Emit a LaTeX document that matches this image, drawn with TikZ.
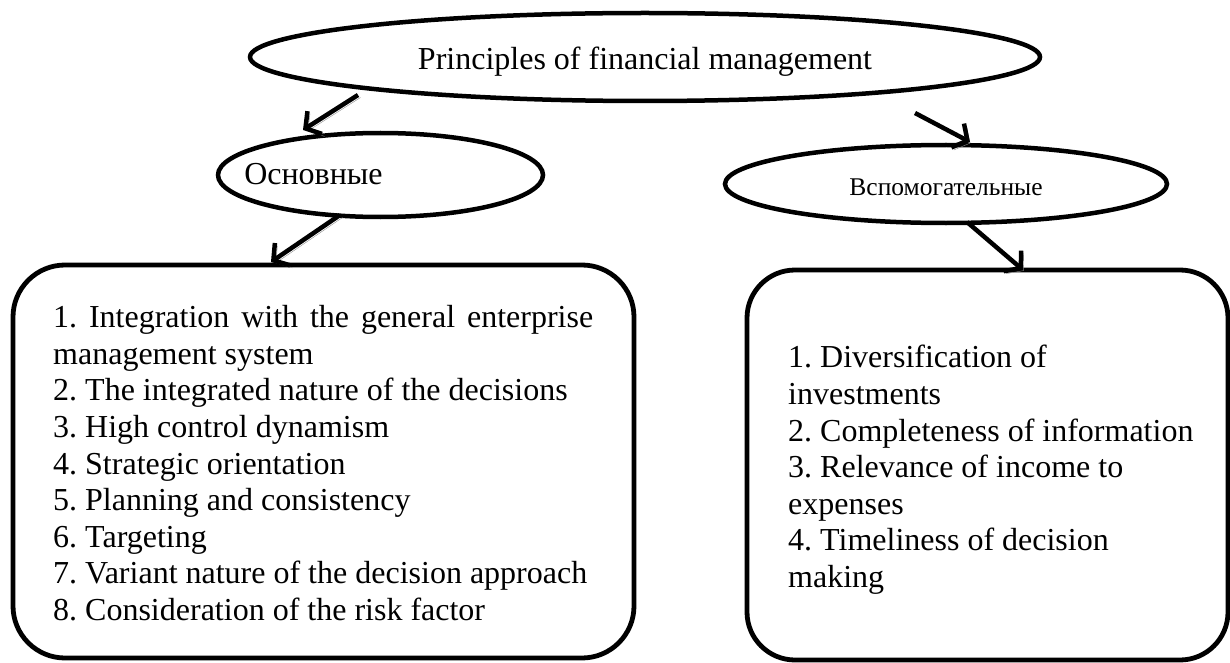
\documentclass[tikz,border=0pt]{standalone}
\usepackage{fontspec}
\setmainfont{Liberation Serif}
\usetikzlibrary{shapes.geometric,arrows.meta}
\frenchspacing
\begin{document}
\begin{tikzpicture}[x=1pt,y=-1pt,
  oval/.style={draw, ellipse, line width=4.5pt, inner sep=0pt},
  panel/.style={draw, rectangle, rounded corners=52pt, line width=4.8pt, inner sep=0pt},
  body/.style={font=\fontsize{32}{36.6}\selectfont, inner sep=0pt},
  link/.style={line width=4.5pt, -{Straight Barb[length=11pt,width=27pt]},
    preaction={draw=black!45, transform canvas={shift={(2.5pt,-2.5pt)}}}}
]
\useasboundingbox (0,0) rectangle (1230,663);
\node[oval, minimum width=790pt, minimum height=88pt,
      font=\fontsize{32}{36}\selectfont, text height=26pt, text depth=0pt]
      (title) at (645,57) {Principles of financial management};
\node[oval, minimum width=325pt, minimum height=84pt] (main) at (380.5,175) {};
\node[font=\fontsize{32}{36}\selectfont, anchor=base, inner sep=0pt] (mainlabel) at (313.5,185) {Основные};
\node[oval, minimum width=442pt, minimum height=78pt,
      font=\fontsize{25.5}{30}\selectfont, text height=22pt, text depth=0pt]
      (aux) at (946,184) {Вспомогательные};
\node[panel, minimum width=621pt, minimum height=393pt] (mainbox) at (323.5,461.5) {};
\node[panel, minimum width=481pt, minimum height=390pt, rounded corners=48pt] (auxbox) at (987.5,465) {};
\node[body, text width=540pt, align=justify, anchor=north west,
      execute at begin node={\hyphenpenalty=10000\exhyphenpenalty=10000}]
  (mainlist) at (53,305.2) {1. Integration with the general enterprise management system\\
2. The integrated nature of the decisions\\
3. High control dynamism\\
4. Strategic orientation\\
5. Planning and consistency\\
6. Targeting\\
7. Variant nature of the decision approach\\
8. Consideration of the risk factor};
\node[body, align=left, anchor=north west] (auxlist) at (788,345.2) {1. Diversification of\\
investments\\
2. Completeness of information\\
3. Relevance of income to\\
expenses\\
4. Timeliness of decision\\
making};
\coordinate (a1s) at ([shift={(-287,38)}]title.center);
\coordinate (a1e) at ([shift={(-77.5,-45)}]main.center);
\coordinate (a2s) at ([shift={(-40.5,40)}]main.center);
\coordinate (a2e) at ([shift={(-52.5,-199.5)}]mainbox.center);
\coordinate (a3s) at ([shift={(270,56)}]title.center);
\coordinate (a3e) at ([shift={(24,-42)}]aux.center);
\coordinate (a4s) at ([shift={(21,38)}]aux.center);
\coordinate (a4e) at ([shift={(35.5,-195)}]auxbox.center);
\draw[link] (a1s) -- (a1e);
\draw[link] (a2s) -- (a2e);
\draw[link] (a3s) -- (a3e);
\draw[link] (a4s) -- (a4e);
\end{tikzpicture}
\end{document}
